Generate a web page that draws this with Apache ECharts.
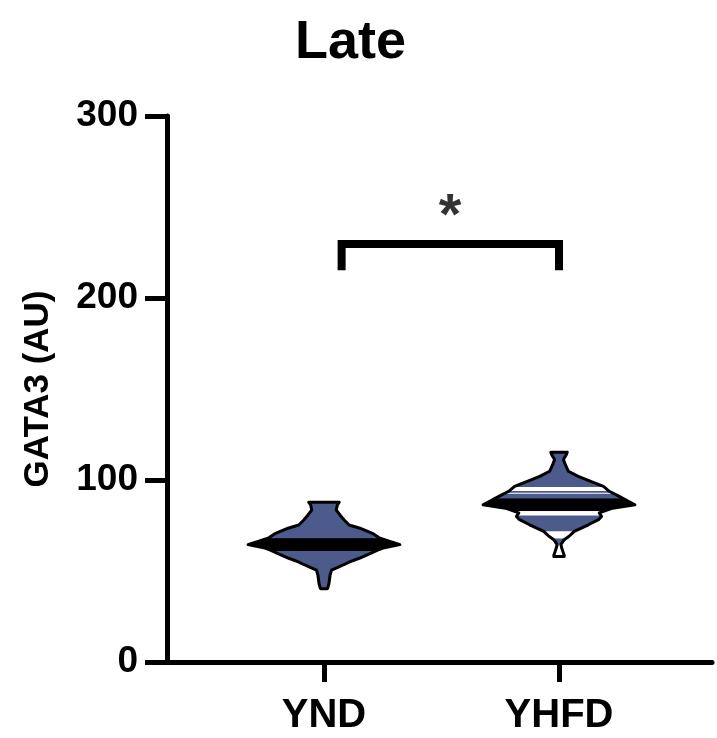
<!DOCTYPE html>
<html>
<head>
<meta charset="utf-8">
<title>Late - GATA3</title>
<script src="https://cdn.jsdelivr.net/npm/echarts@6/dist/echarts.min.js"></script>
<style>
  html, body { margin: 0; padding: 0; background: #fff; }
  #main { width: 717px; height: 738px; }
</style>
</head>
<body>
<div id="main"></div>
<script>
// groups
const categories = ["YND", "YHFD"];
const medians = [64.5, 86.4];

// violin outlines: GATA3 level (top -> bottom) and half width (x units)
const yndLevels = [87.8, 86.3, 83.5, 80.8, 78, 75.3, 73.5, 70.7, 68, 66.5, 64.5, 62.8, 61.5, 59.7, 57, 55, 53.3, 50.5, 47.8, 43, 40.3];
const yndHalf   = [0.065, 0.057, 0.052, 0.068, 0.086, 0.107, 0.153, 0.206, 0.238, 0.274, 0.323, 0.257, 0.228, 0.198, 0.150, 0.109, 0.082, 0.032, 0.026, 0.021, 0.015];

const yhfdLevels = [115.3, 113.9, 111.2, 108.4, 104.8, 102, 99.3, 96.5, 93.8, 91, 88.5, 86.4, 84.5, 81.9, 80, 78.2, 75.4, 71.8, 69.1, 67.2, 64.5, 62.5, 60.5, 58.6, 57.9];
const yhfdHalf   = [0.035, 0.031, 0.019, 0.027, 0.040, 0.082, 0.135, 0.189, 0.214, 0.256, 0.291, 0.323, 0.228, 0.171, 0.181, 0.168, 0.125, 0.065, 0.043, 0.022, 0.008, 0.012, 0.017, 0.022, 0.022];

// white gaps inside the YHFD violin (level ranges)
const yhfdGaps = [[94.0, 96.2], [92.5, 93.0], [80.5, 83.3], [67.8, 71.8], [57.9, 64.5]];

// significance bracket
const bracketX = [1.075, 2.0];
const bracketY = [229.7, 215.3];
const starPos = [1.536, 244];

const yTicks = [0, 100, 200, 300];

const profiles = [
  { levels: yndLevels, half: yndHalf, gaps: [] },
  { levels: yhfdLevels, half: yhfdHalf, gaps: yhfdGaps }
];

const FONT = "Liberation Sans, Arial, sans-serif";
const violinColor = "#4c5a8c";

function halfAt(p, v) {
  const L = p.levels, H = p.half;
  if (v >= L[0]) return H[0];
  for (let k = 0; k < L.length - 1; k++) {
    if (v <= L[k] && v >= L[k + 1]) {
      const t = (L[k] - v) / (L[k] - L[k + 1]);
      return H[k] + t * (H[k + 1] - H[k]);
    }
  }
  return H[H.length - 1];
}

// polygon of the violin between two levels
function bandPoints(p, cx, lo, hi, api) {
  const pts = [[hi, halfAt(p, hi)]];
  p.levels.forEach((v, k) => {
    if (v < hi && v > lo) pts.push([v, p.half[k]]);
  });
  pts.push([lo, halfAt(p, lo)]);
  const left = pts.map(d => api.coord([cx - d[1], d[0]]));
  const right = pts.slice().reverse().map(d => api.coord([cx + d[1], d[0]]));
  return left.concat(right);
}

function renderViolin(params, api) {
  const i = params.dataIndex;
  const p = profiles[i];
  const cx = api.value(0);
  const med = api.value(1);
  const top = p.levels[0], bottom = p.levels[p.levels.length - 1];
  const outline = bandPoints(p, cx, bottom, top, api);
  const pxPerUnit = api.size([0, 1])[1];
  const medHalf = 5.8 / pxPerUnit;

  const children = [];
  children.push({
    type: "polygon",
    shape: { points: outline },
    style: { fill: violinColor, stroke: null }
  });
  p.gaps.forEach(g => {
    children.push({
      type: "polygon",
      shape: { points: bandPoints(p, cx, g[0], g[1], api) },
      style: { fill: "#fff", stroke: null }
    });
  });
  children.push({
    type: "polygon",
    shape: { points: bandPoints(p, cx, med - medHalf, med + medHalf, api) },
    style: { fill: "#000", stroke: "#000", lineWidth: 1 }
  });
  children.push({
    type: "polygon",
    shape: { points: outline },
    style: { fill: null, stroke: "#000", lineWidth: 3, lineJoin: "round" }
  });
  return { type: "group", children: children };
}

const chart = echarts.init(document.getElementById("main"));

const option = {
  animation: false,
  backgroundColor: "#fff",
  title: {
    text: "Late",
    left: 290,
    top: 11,
    textStyle: { fontFamily: FONT, fontWeight: "bold", fontSize: 54, color: "#000" }
  },
  grid: { left: 167, right: 5, top: 116, bottom: 76, outerBoundsMode: "none" },
  xAxis: {
    type: "value",
    min: 0.332,
    max: 2.651,
    splitLine: { show: false },
    axisLine: { onZero: false, lineStyle: { color: "#000", width: 5 } },
    axisTick: { show: true, customValues: [1, 2], length: 20, lineStyle: { color: "#000", width: 5 } },
    axisLabel: {
      customValues: [1, 2],
      formatter: v => categories[Math.round(v) - 1],
      margin: 34,
      color: "#000",
      fontFamily: FONT,
      fontWeight: "bold",
      fontSize: 40
    }
  },
  yAxis: {
    type: "value",
    min: 0,
    max: 300,
    interval: 100,
    name: "GATA3 (AU)",
    nameLocation: "middle",
    nameRotate: 90,
    nameGap: 111,
    nameTextStyle: { fontFamily: FONT, fontWeight: "bold", fontSize: 35, color: "#000" },
    splitLine: { show: false },
    axisLine: { show: true, lineStyle: { color: "#000", width: 5 } },
    axisTick: { show: true, length: 22, lineStyle: { color: "#000", width: 5 } },
    axisLabel: {
      margin: 29,
      color: "#000",
      fontFamily: FONT,
      fontWeight: "bold",
      fontSize: 37,
      formatter: v => (yTicks.indexOf(v) >= 0 ? String(v) : "")
    }
  },
  series: [
    {
      type: "custom",
      renderItem: renderViolin,
      data: medians.map((m, i) => [i + 1, m]),
      z: 3
    },
    {
      type: "line",
      data: [
        [bracketX[0], bracketY[1]],
        [bracketX[0], bracketY[0]],
        [bracketX[1], bracketY[0]],
        [bracketX[1], bracketY[1]]
      ],
      symbol: "none",
      lineStyle: { color: "#000", width: 8, cap: "butt", join: "miter" },
      z: 4
    },
    {
      type: "scatter",
      data: [starPos],
      symbolSize: 0,
      label: {
        show: true,
        position: "inside",
        formatter: "*",
        color: "#000",
        fontFamily: FONT,
        fontWeight: "bold",
        fontSize: 58
      },
      z: 5
    }
  ]
};

chart.setOption(option);
window.addEventListener("resize", () => chart.resize());
</script>
</body>
</html>
